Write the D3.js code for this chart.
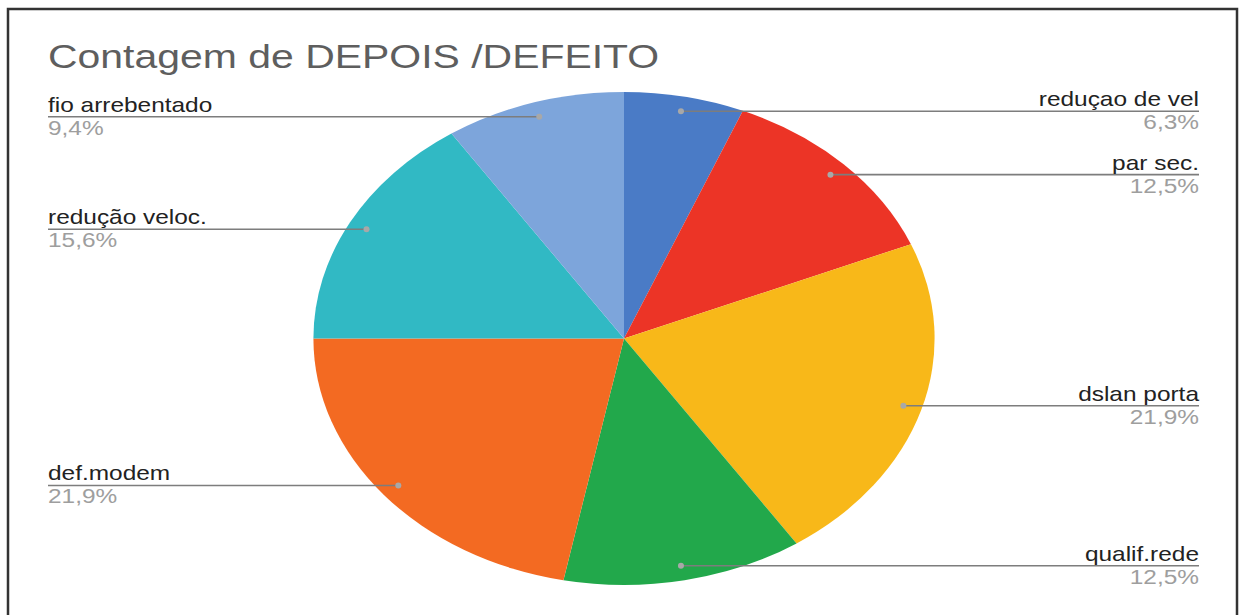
<!DOCTYPE html>
<html>
<head>
<meta charset="utf-8">
<script src="https://cdn.jsdelivr.net/npm/d3@7"></script>
<style>
  html, body { margin: 0; padding: 0; background: #fff; }
  svg { display: block; }
</style>
</head>
<body>
<svg id="chart" width="1246" height="615"></svg>
<script>
const title = "Contagem de DEPOIS /DEFEITO";
const categories = ["reduçao de vel", "par sec.", "dslan porta", "qualif.rede", "def.modem", "redução veloc.", "fio arrebentado"];
const counts = [2, 4, 7, 4, 7, 5, 3];
const colors = ["#4a7bc6", "#ec3426", "#f8b819", "#22a84b", "#f36a22", "#31b9c4", "#7da5db"];

const W = 1246, H = 615;
const SX = 1.26;            // horizontal stretch of the original picture
const cx = 624 / SX, cy = 338.5, R = 246.5;
const leftX = 48 / SX, rightX = 1199 / SX;

const svg = d3.select("#chart");
svg.append("rect").attr("width", W).attr("height", H).attr("fill", "#fff");
svg.append("rect").attr("x", 8).attr("y", 9).attr("width", 1229).attr("height", 640)
  .attr("fill", "none").attr("stroke", "#333").attr("stroke-width", 2.5);

const g = svg.append("g").attr("transform", `scale(${SX},1)`);

g.append("text").attr("x", 48 / SX).attr("y", 68)
  .attr("font-family", "Liberation Sans, Arial, sans-serif")
  .attr("font-size", 32.5).attr("fill", "#5e5e5e").text(title);

const total = d3.sum(counts);
const data = categories.map((c, i) => ({ name: c, value: counts[i], color: colors[i] }));
const pie = d3.pie().value(d => d.value).sort(null);
const arcs = pie(data);
const arc = d3.arc().innerRadius(0).outerRadius(R);
const labelArc = d3.arc().innerRadius(R * 0.94).outerRadius(R * 0.94);

const pg = g.append("g").attr("transform", `translate(${cx},${cy})`);
pg.selectAll("path").data(arcs).join("path")
  .attr("d", arc).attr("fill", d => d.data.color);

const fmt = v => (Math.round(v * 1000) / 10).toFixed(1).replace(".", ",") + "%";

arcs.forEach(a => {
  const [px, py] = labelArc.centroid(a);
  const dx = cx + px, dy = cy + py;
  const mid = (a.startAngle + a.endAngle) / 2;
  const right = mid < Math.PI;
  const ly = dy;
  const ex = right ? rightX : leftX;
  g.append("line").attr("x1", dx).attr("y1", dy).attr("x2", ex).attr("y2", ly)
    .attr("stroke", "#7d7d7d").attr("stroke-width", 1.7);
  g.append("ellipse").attr("cx", dx).attr("cy", dy).attr("rx", 3 / SX).attr("ry", 3)
    .attr("fill", "#a8a8a8");
  g.append("text").attr("x", ex).attr("y", ly - 5)
    .attr("text-anchor", right ? "end" : "start")
    .attr("font-family", "Liberation Sans, Arial, sans-serif")
    .attr("font-size", 19.4).attr("fill", "#222").text(a.data.name);
  g.append("text").attr("x", ex).attr("y", ly + 18)
    .attr("text-anchor", right ? "end" : "start")
    .attr("font-family", "Liberation Sans, Arial, sans-serif")
    .attr("font-size", 19.4).attr("fill", "#9e9e9e").text(fmt(a.data.value / total));
});
</script>
</body>
</html>
